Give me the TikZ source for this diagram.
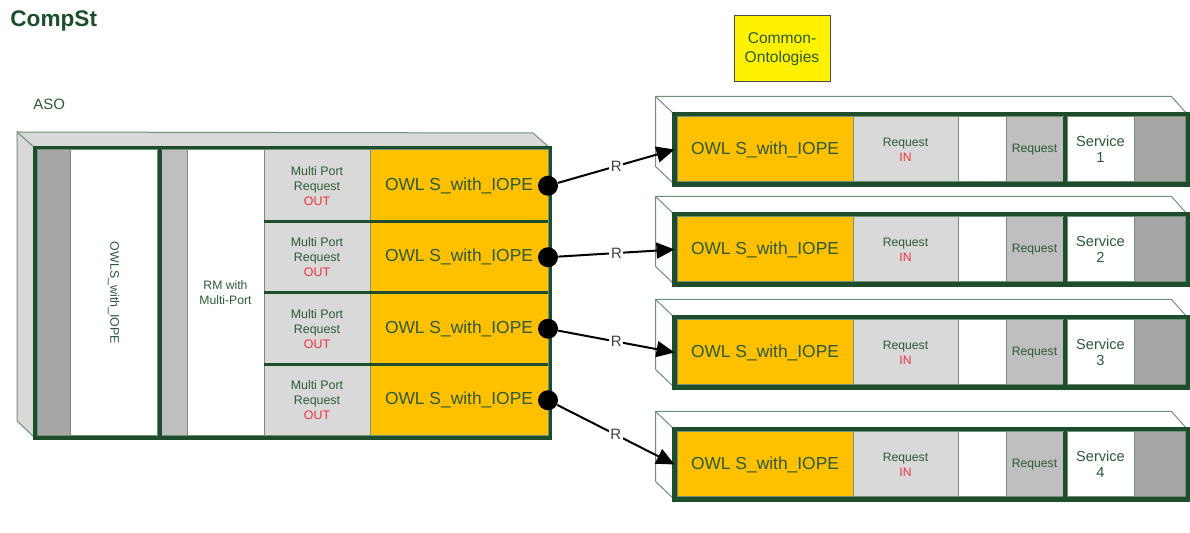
\documentclass[tikz,border=0pt]{standalone}
\usepackage{fontspec}
\setmainfont{Liberation Sans}
\usepackage{tikz}
\usetikzlibrary{arrows.meta, positioning, backgrounds}
\definecolor{framegreen}{RGB}{30,77,43}
\definecolor{textgreen}{RGB}{45,90,55}
\definecolor{edgegreen}{RGB}{110,145,120}
\definecolor{owlorange}{RGB}{255,192,0}
\definecolor{lightgray2}{RGB}{217,217,217}
\definecolor{midgray2}{RGB}{191,191,191}
\definecolor{darkgray2}{RGB}{166,166,166}
\definecolor{outred}{RGB}{240,50,60}
\tikzstyle{cell} = [rectangle, draw=edgegreen, line width=0.5pt, inner sep=0pt, outer sep=0pt, align=center, text=textgreen]
\tikzstyle{owl} = [cell, fill=owlorange, font=\fontsize{8.7}{10}\selectfont]
\tikzstyle{port} = [cell, fill=lightgray2, font=\fontsize{6.2}{7.5}\selectfont]
\tikzstyle{blank} = [cell, fill=white, font=\fontsize{6.2}{7.5}\selectfont]
\tikzstyle{shade2} = [cell, fill=midgray2, font=\fontsize{6.1}{7.5}\selectfont]
\tikzstyle{shade3} = [cell, fill=darkgray2]
\tikzstyle{boxframe} = [rectangle, draw=framegreen, line width=2.3pt, inner sep=0pt, outer sep=0pt]
\tikzstyle{sepline} = [draw=framegreen, line width=2pt]
\tikzstyle{side} = [draw=edgegreen, line width=0.5pt]
\tikzstyle{portdot} = [circle, fill=black, minimum size=10pt, inner sep=0pt]
\tikzstyle{rarrow} = [line width=1pt, ->, >={Triangle[length=9pt, width=8pt]}]
\tikzstyle{rlabel} = [fill=white, inner sep=0.8pt, text=black!75, font=\fontsize{7.5}{8}\selectfont]

\begin{document}
\begin{tikzpicture}[x=0.5pt, y=-0.5pt]
\useasboundingbox (0,0) rectangle (1190,533);

% Title and labels
\node (title) [anchor=west, inner sep=0pt, text=framegreen, font=\fontsize{11.3}{13}\selectfont\bfseries] at (10,21) {CompSt};
\node (asolabel) [anchor=west, inner sep=0pt, text=textgreen, font=\fontsize{7.5}{9}\selectfont] at (33,104) {ASO};
\node (onto) [rectangle, draw=black!70, line width=0.5pt, fill=yellow, minimum width=48pt, minimum height=33pt, align=center, text=textgreen, font=\fontsize{7.8}{9.4}\selectfont] at (782,49) {Common-\\Ontologies};

% ASO block
\node (aso) [boxframe, minimum width=257.5pt, minimum height=145pt] at (292.5,293) {};
\node (asocol) [shade3, minimum width=16.5pt, minimum height=143pt] at (53.5,293) {};
\node (owls) [blank, right of=asocol, node distance=30.125pt, minimum width=43.75pt, minimum height=143pt] {\rotatebox{-90}{OWLS\_with\_IOPE}};
\node (rmcol) [shade2, right of=owls, node distance=30.25pt, minimum width=12.75pt, minimum height=143pt] {};
\node (rm) [blank, right of=rmcol, node distance=25.625pt, minimum width=38.5pt, minimum height=143pt, font=\fontsize{6.1}{7.5}\selectfont] {RM with\\Multi-Port};
\draw [sepline] ([xshift=1pt]owls.north east) -- ([xshift=1pt]owls.south east);

\foreach \i/\y in {1/185.75, 2/257.25, 3/328.75, 4/400.25} {
    \node (mp\i) [port, minimum width=53pt, minimum height=35.75pt] at (317,\y) {Multi Port\\Request\\\textcolor{outred}{OUT}};
    \node (owl\i) [owl, right of=mp\i, node distance=71pt, minimum width=89pt, minimum height=35.75pt] {OWL S\_with\_IOPE};
}
\foreach \i in {1,2,3}
    \draw [framegreen, line width=1.5pt] (mp\i.south west) -- (owl\i.south east);
\foreach \i in {1,...,4}
    \node (dot\i) [portdot] at (owl\i.east) {};

% Service boxes
\foreach \i/\y in {1/149.5, 2/249.5, 3/352.5, 4/464.5} {
    \node (box\i) [boxframe, minimum width=256.5pt, minimum height=35pt] at (931,\y) {};
    \node (rowl\i) [owl, minimum width=88pt, minimum height=32.5pt] at (765,\y) {OWL S\_with\_IOPE};
    \node (rin\i) [port, right of=rowl\i, node distance=70.25pt, minimum width=52.5pt, minimum height=32.5pt, font=\fontsize{6.1}{7.5}\selectfont] {Request\\\textcolor{outred}{IN}};
    \node (gap\i) [blank, right of=rin\i, node distance=38.25pt, minimum width=24pt, minimum height=32.5pt] {};
    \node (req\i) [shade2, right of=gap\i, node distance=26.25pt, minimum width=28.5pt, minimum height=32.5pt] {Request};
    \node (svc\i) [blank, right of=req\i, node distance=33pt, minimum width=33.5pt, minimum height=32.5pt, font=\fontsize{7.3}{8}\selectfont] {Service\\\i};
    \node (end\i) [shade3, right of=svc\i, node distance=29.5pt, minimum width=25.5pt, minimum height=32.5pt] {};
    \draw [sepline] ([xshift=1pt]req\i.north east) -- ([xshift=1pt]req\i.south east);
}

% Side faces
\begin{scope}[on background layer]
    \fill [lightgray2] ([shift={(-18,-16)}]aso.north west) -- ([shift={(-17,-15)}]aso.north east) -- (aso.north east) -- (aso.north west) -- (aso.south west) -- ([shift={(-18,-17)}]aso.south west) -- cycle;
    \draw [side] (aso.north east) -- ([shift={(-17,-15)}]aso.north east) -- ([shift={(-18,-16)}]aso.north west) -- ([shift={(-18,-17)}]aso.south west) -- (aso.south west);
    \draw [side] ([shift={(-18,-16)}]aso.north west) -- (aso.north west);
    \foreach \i in {1,...,4} {
        \draw [side] (box\i.north east) -- ([shift={(-16,-18)}]box\i.north east) -- ([shift={(-19,-18)}]box\i.north west) -- ([shift={(-19,-18)}]box\i.south west) -- (box\i.south west);
        \draw [side] ([shift={(-19,-18)}]box\i.north west) -- (box\i.north west);
    }
\end{scope}

% Draw edges
\foreach \i in {1,...,4}
    \draw [rarrow] (dot\i) -- node [rlabel] {R} (box\i.west);
\end{tikzpicture}
\end{document}
